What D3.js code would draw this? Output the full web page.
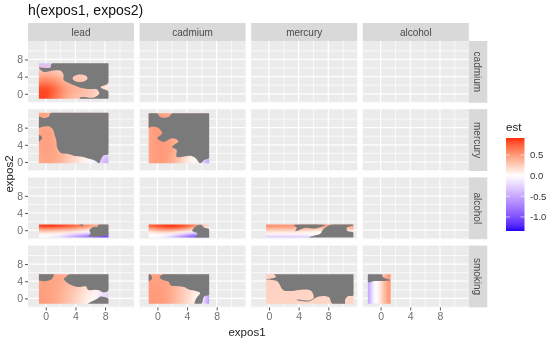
<!DOCTYPE html>
<html>
<head>
<meta charset="utf-8">
<script src="https://cdn.jsdelivr.net/npm/d3@7"></script>
<style>
html, body { margin: 0; padding: 0; background: #fff; }
svg { display: block; filter: blur(0.55px); font-family: "Liberation Sans", Arial, sans-serif; }
</style>
</head>
<body>
<svg id="drawing_region" width="550" height="342"></svg>
<script>
const cols = ['lead', 'cadmium', 'mercury', 'alcohol'];
const rows = ['cadmium', 'mercury', 'alcohol', 'smoking'];
const x_ticks = [0, 4, 8];
const x_minor = [2, 6, 10];
const y_ticks = [0, 4, 8];
const y_minor = [-2, 2, 6, 10];
const legend_ticks = [0.5, 0, -0.5, -1];

// est, rows run from the top of the patch down
const grid8 = [-1, 0, 1, 2, 3, 4, 5, 6, 7, 8];
const grid7 = [-1, 0, 1, 2, 3, 4, 5, 6, 7];
const thin8 = [-1, 0.5, 2, 3.5, 5, 6.5, 8];
const thin7 = [-1, 0.5, 2, 3.5, 5, 6.5];
const thin11 = [-0.5, 1, 2.5, 4, 5.5, 7, 8.5, 10, 11.5];
const thin_y = [1, 0.5, 0, -0.5, -1, -1.5];
const smoke_y = [5, 3, 1, -1];

const lead_cadmium_est = [
    [-.35, -.35, -.3, .2, .2, .2, .2, .2, .2, .2],
    [.3, .35, .3, .25, .2, .25, .25, .2, .2, .2],
    [.55, .6, .55, .45, .35, .3, .3, .2, .15, .12],
    [.85, .85, .75, .6, .45, .4, .35, .3, .2, .15],
    [.85, .85, .7, .55, .4, .3, .3, .25, .2, .1]
];
const lead_cadmium_na = [
    [[.84,7.1],[8.46,7.1],[8.46,2.6],[7.4,1.55],[8.46,.55],[8.46,-1.16],[4.55,-1.16],[4.7,-.8],[6.5,-.85],[7.2,0],[6.95,.95],[5.85,1.1],[4.9,1.3],[3.1,2.5],[2.4,3.25],[2.4,4.4],[2,5.35],[1.05,5.4],[-.3,5.1],[-.93,6],[-.93,6.1],[.6,6.1]],
    [[3.6,3.6],[3.9,4.2],[4.6,4.5],[5.3,4.3],[5.65,3.6],[5.3,3],[4.6,2.75],[3.9,3]]
];

const lead_mercury_est = [
    [.45, .45, .4, .3, .3, .3, .3, .3, .3, .3],
    [.42, .42, .4, .3, .3, .3, .3, .3, .3, .3],
    [.45, .48, .45, .35, .3, .3, .3, .3, .3, .3],
    [.45, .48, .45, .38, .3, .3, .3, .3, .3, .3],
    [.45, .48, .45, .38, .3, .25, .2, .1, .05, 0],
    [.42, .45, .45, .4, .3, .2, .1, .03, -.15, -.4],
    [.45, .45, .42, .35, .25, .15, .05, 0, -.2, -.45]
];
const lead_mercury_na = [
    [[.7,11.5],[8.46,11.5],[8.46,1.85],[7.8,1.55],[7.4,.45],[7.2,-.3],[6.75,.25],[5.7,.8],[4.7,1.25],[3.9,1.4],[3.1,1.85],[2,2.15],[1.5,3.55],[1.45,4.75],[1.2,6.3],[.95,7.6],[.4,8.3],[-.5,8.2],[-.93,7.85],[-.93,10.55],[-.3,10.25],[.4,10.55]],
    [[-.93,6.3],[-.48,5.75],[-.75,4.95],[-.93,4.8]]
];

const cadmium_mercury_est = [
    [.45, .48, .48, .4, .3, .3, .3, .3, .3],
    [.45, .48, .48, .4, .3, .3, .3, .3, .3],
    [.45, .5, .5, .4, .3, .3, .3, .3, .3],
    [.45, .5, .5, .45, .35, .3, .3, .3, .3],
    [.45, .5, .5, .45, .35, .3, .2, .1, 0],
    [.45, .5, .5, .42, .3, .12, .03, -.1, -.5],
    [.45, .5, .48, .4, .25, .1, .02, -.15, -.7]
];
const cadmium_mercury_na = [
    [[2,11.35],[6.98,11.35],[6.98,1],[6.3,.45],[5.8,-.3],[5.15,.9],[4.5,1.45],[2.6,1.23],[2.6,2.8],[2,3.5],[2.85,4.85],[2,5.55],[.85,4.7],[0,5.55],[.65,6.7],[.1,8],[-.5,8.2],[-1,8.1],[-1.18,7.9],[-1.18,11.35],[0,11.35],[.3,10.6],[.9,10.3],[1.6,10.6]]
];

const lead_alcohol_est = [
    [.85, .9, .85, .75, .6, .45, .35],
    [.6, .65, .6, .55, .45, .3, .3],
    [.4, .4, .35, .3, .15, .1, .1],
    [.2, .2, .15, .1, .02, -.1, -.2],
    [.05, .02, -.03, -.2, -.4, -.6, -.9],
    [0, -.05, -.2, -.5, -.7, -.9, -1.1]
];
const lead_alcohol_na = [
    [[7.1,1.32],[8.46,1.32],[8.46,-1],[7.85,-1.3],[7.55,-1.4],[5.8,-1.4],[6.05,-.78],[5.9,0],[6.5,.78],[6.95,.78]],
    [[4.5,1.32],[5.1,1.32],[4.9,.9]]
];

const cadmium_alcohol_est = [
    [.75, .85, .9, .8, .6, .2],
    [.5, .7, .75, .65, .35, .1],
    [.3, .45, .45, .3, .1, 0],
    [.1, .2, .15, .03, -.1, -.3],
    [0, .02, -.05, -.3, -.6, -.6],
    [0, -.05, -.3, -.7, -1, -.8]
];
const cadmium_alcohol_na = [
    [[5.85,1.32],[6.3,.62],[6.98,.23],[6.98,-1.7],[5.1,-1.7],[5.4,-.8],[4.7,-.15],[5.4,1.16]]
];

const mercury_alcohol_est = [
    [.55, .55, .5, .5, .5, .5, .45, .45, .45],
    [.4, .4, .4, .4, .4, .35, .3, .35, .4],
    [.25, .25, .25, .25, .2, .15, .1, .1, .2],
    [.1, .1, .1, .08, .05, .02, 0, 0, 0],
    [.03, .03, .03, .02, .01, 0, 0, 0, 0],
    [-.3, -.3, -.3, -.3, -.25, -.1, 0, 0, 0]
];
const mercury_alcohol_na = [
    [[8.4,1.32],[11.4,1.32],[11.4,1.16],[10.5,.62],[10.55,-.15],[11.4,-.54],[11.4,-1.7],[5.35,-1.7],[5.8,-1.4],[6.95,-.78],[7.3,.16]],
    [[3.3,1.2],[7.6,1.2],[6.25,.4],[4.9,.55],[3.55,-.23],[3.75,.55]]
];

const lead_smoking_est = [
    [.45, .45, .45, .45, .4, .35, .3, .3, .3, .3],
    [.48, .48, .45, .42, .35, .28, .2, .1, .03, -.1],
    [.5, .48, .45, .4, .32, .25, .15, .05, -.05, -.35],
    [.5, .48, .45, .38, .3, .2, .1, .03, -.05, -.2]
];
const lead_smoking_na = [
    [[3.2,5.65],[8.46,5.65],[8.46,1.85],[7.65,1.45],[7.3,1.85],[6.7,2],[5.7,2],[5.4,2.8],[4.25,2.65],[3.1,3.4],[2.43,4.55],[2.7,5]],
    [[-.93,5.65],[1.07,5.65],[1,5],[.6,4.3],[-.93,4.2]],
    [[8.46,-.08],[8.46,-1.25],[5.7,-1.25],[6.05,-.85],[6.95,-.08],[7.4,.45]]
];

const cadmium_smoking_est = [
    [.45, .45, .45, .4, .3, .3, .3, .3, .3],
    [.5, .5, .48, .42, .3, .2, .1, .05, -.5],
    [.5, .5, .48, .4, .3, .2, .08, 0, -.7],
    [.5, .5, .48, .4, .3, .2, .06, 0, -.7]
];
const cadmium_smoking_na = [
    [[.77,5.65],[6.98,5.65],[6.98,.85],[6.3,.46],[5.94,-1.25],[5.03,-1.25],[5.3,.16],[5.76,1.25],[5.17,1.7],[4.26,2.05],[3.58,2.65],[1.77,3.05],[1.54,3.8],[.64,4.35],[.3,4.9]],
    [[-1.18,5.65],[-.95,5.65],[-.72,4.57],[-1.18,4.03]]
];

const mercury_smoking_x = [0, 4, 8, 12];
const mercury_smoking_est = [
    [.22, .22, .22, .22],
    [.22, .22, .22, .22],
    [.22, .22, .2, .2],
    [.22, .22, .2, .2]
];
const mercury_smoking_na = [
    [[.7,5.65],[11.4,5.65],[11.4,.7],[10.65,.47],[10.25,-.46],[10.25,-1.25],[8.53,-1.25],[8.07,.3],[6.7,.46],[5.35,-.7],[3.76,-.4],[3.76,-.3],[5.35,-.47],[6.03,.15],[5.58,1.88],[2.63,1.7],[1.95,1.88],[1.05,4.04],[-.4,4.39],[.95,4.96]]
];

const alcohol_smoking_x = [-1.6, -1.2, -.8, -.4, 0, .4, .8, 1.2];
const alcohol_smoking_est = [
    [-.5, -.25, -.02, .03, .15, .3, .45, .5],
    [-.5, -.25, -.02, .03, .15, .3, .42, .5],
    [-.5, -.25, -.02, .03, .15, .3, .42, .5],
    [-.5, -.25, -.02, .03, .15, .3, .42, .5]
];
const alcohol_smoking_na = [
    [[-1.72,5.65],[.18,5.65],[.32,4.96],[1.36,4.2],[-.82,4.04],[-1.72,3.8]]
];

const patches = [
    {col:0, row:0, ext_x:[-.93,8.46], ext_y:[-1.16,7.1], xs:grid8, ys:[7,5,3,1,-1], est:lead_cadmium_est, na:lead_cadmium_na},
    {col:0, row:1, ext_x:[-.93,8.46], ext_y:[-.3,11.5], xs:grid8, ys:[11,9,7,5,3,1,-1], est:lead_mercury_est, na:lead_mercury_na},
    {col:1, row:1, ext_x:[-1.18,6.98], ext_y:[-.3,11.35], xs:grid7, ys:[11,9,7,5,3,1,-1], est:cadmium_mercury_est, na:cadmium_mercury_na},
    {col:0, row:2, ext_x:[-.93,8.46], ext_y:[-1.7,1.32], xs:thin8, ys:thin_y, est:lead_alcohol_est, na:lead_alcohol_na},
    {col:1, row:2, ext_x:[-1.18,6.98], ext_y:[-1.7,1.32], xs:thin7, ys:thin_y, est:cadmium_alcohol_est, na:cadmium_alcohol_na},
    {col:2, row:2, ext_x:[-.4,11.4], ext_y:[-1.7,1.32], xs:thin11, ys:thin_y, est:mercury_alcohol_est, na:mercury_alcohol_na},
    {col:0, row:3, ext_x:[-.93,8.46], ext_y:[-1.25,5.65], xs:grid8, ys:smoke_y, est:lead_smoking_est, na:lead_smoking_na},
    {col:1, row:3, ext_x:[-1.18,6.98], ext_y:[-1.25,5.65], xs:grid7, ys:smoke_y, est:cadmium_smoking_est, na:cadmium_smoking_na},
    {col:2, row:3, ext_x:[-.4,11.4], ext_y:[-1.25,5.65], xs:mercury_smoking_x, ys:smoke_y, est:mercury_smoking_est, na:mercury_smoking_na},
    {col:3, row:3, ext_x:[-1.72,1.36], ext_y:[-1.25,5.65], xs:alcohol_smoking_x, ys:smoke_y, est:alcohol_smoking_est, na:alcohol_smoking_na}
];

const config = {
    left: 28, top: 41,
    panel_width: 106, panel_height: 61.8,
    col_step: 111.6, row_step: 68.2,
    strip: 18.5
};

const svg = d3.select('#drawing_region');
const defs = svg.append('defs');

const color = d3.scaleLinear()
    .domain([-1.34, 0, 0.91])
    .range(['#2200ff', '#ffffff', '#ff2a0a'])
    .interpolate(d3.interpolateLab)
    .clamp(true);

// cell edges sit halfway between neighbouring centres, outer cells run past the clip
function edges(centres, scale) {
    const out = [];
    centres.forEach((c, i) => {
        const lo = i === 0 ? c - (centres[1] - c) * 4 : (centres[i - 1] + c) / 2;
        const hi = i === centres.length - 1 ? c + (c - centres[i - 1]) * 4 : (c + centres[i + 1]) / 2;
        out.push([scale(lo), scale(hi)]);
    });
    return out;
}

// panels
const col_x = cols.map((d, i) => config.left + i * config.col_step);
const row_y = rows.map((d, i) => config.top + i * config.row_step);
const xscales = col_x.map(l => d3.scaleLinear().domain([-2.4, 11.9]).range([l, l + config.panel_width]));
const yscales = row_y.map(t => d3.scaleLinear().domain([-2.1, 12.3]).range([t + config.panel_height, t]));

rows.forEach((row, r) => {
    cols.forEach((col, c) => {
        const x = xscales[c], y = yscales[r];
        const g = svg.append('g');
        g.append('rect')
            .attr('x', col_x[c]).attr('y', row_y[r])
            .attr('width', config.panel_width).attr('height', config.panel_height)
            .attr('fill', '#EBEBEB');
        g.selectAll('.minor-x').data(x_minor).join('line')
            .attr('x1', d => x(d)).attr('x2', d => x(d))
            .attr('y1', row_y[r]).attr('y2', row_y[r] + config.panel_height)
            .attr('stroke', '#fff').attr('stroke-width', 0.7);
        g.selectAll('.minor-y').data(y_minor).join('line')
            .attr('y1', d => y(d)).attr('y2', d => y(d))
            .attr('x1', col_x[c]).attr('x2', col_x[c] + config.panel_width)
            .attr('stroke', '#fff').attr('stroke-width', 0.7);
        g.selectAll('.major-x').data(x_ticks).join('line')
            .attr('x1', d => x(d)).attr('x2', d => x(d))
            .attr('y1', row_y[r]).attr('y2', row_y[r] + config.panel_height)
            .attr('stroke', '#fff').attr('stroke-width', 1.2);
        g.selectAll('.major-y').data(y_ticks).join('line')
            .attr('y1', d => y(d)).attr('y2', d => y(d))
            .attr('x1', col_x[c]).attr('x2', col_x[c] + config.panel_width)
            .attr('stroke', '#fff').attr('stroke-width', 1.2);
    });
});

// fitted surfaces
const ring_path = d3.line().x(d => d[0]).y(d => d[1]).curve(d3.curveCatmullRomClosed.alpha(0.5));
patches.forEach((p, i) => {
    const x = xscales[p.col], y = yscales[p.row];
    const x_edges = edges(p.xs, x);
    const y_edges = edges(p.ys, y);

    defs.append('clipPath').attr('id', 'clip' + i).append('rect')
        .attr('x', x(p.ext_x[0])).attr('y', y(p.ext_y[1]))
        .attr('width', x(p.ext_x[1]) - x(p.ext_x[0]))
        .attr('height', y(p.ext_y[0]) - y(p.ext_y[1]));

    const sd_x = 0.4 * d3.median(x_edges, d => Math.abs(d[1] - d[0]));
    const sd_y = 0.4 * d3.median(y_edges, d => Math.abs(d[1] - d[0]));
    defs.append('filter').attr('id', 'soft' + i)
        .attr('filterUnits', 'userSpaceOnUse')
        .attr('x', 0).attr('y', 0).attr('width', 550).attr('height', 342)
        .attr('color-interpolation-filters', 'sRGB')
        .append('feGaussianBlur').attr('stdDeviation', `${sd_x} ${sd_y}`);

    const g = svg.append('g').attr('clip-path', `url(#clip${i})`);
    const cells = g.append('g').attr('filter', `url(#soft${i})`);
    p.est.forEach((line, yi) => {
        line.forEach((v, xi) => {
            cells.append('rect')
                .attr('x', x_edges[xi][0])
                .attr('y', Math.min(y_edges[yi][0], y_edges[yi][1]))
                .attr('width', x_edges[xi][1] - x_edges[xi][0] + 0.5)
                .attr('height', Math.abs(y_edges[yi][1] - y_edges[yi][0]) + 0.5)
                .attr('fill', color(v));
        });
    });
    g.append('path')
        .attr('d', p.na.map(ring => ring_path(ring.map(d => [x(d[0]), y(d[1])]))).join(''))
        .attr('fill', '#7A7A7A')
        .attr('fill-rule', 'evenodd');
});

// strips
cols.forEach((col, c) => {
    svg.append('rect')
        .attr('x', col_x[c]).attr('y', 23)
        .attr('width', config.panel_width).attr('height', config.top - 23)
        .attr('fill', '#D9D9D9');
    svg.append('text')
        .attr('x', col_x[c] + config.panel_width / 2).attr('y', 36)
        .attr('text-anchor', 'middle')
        .attr('font-size', 10).attr('fill', '#4a4a4a')
        .text(col);
});
const right = col_x[3] + config.panel_width;
rows.forEach((row, r) => {
    svg.append('rect')
        .attr('x', right).attr('y', row_y[r])
        .attr('width', config.strip).attr('height', config.panel_height)
        .attr('fill', '#D9D9D9');
    svg.append('text')
        .attr('transform', `translate(${right + 5.5}, ${row_y[r] + config.panel_height / 2}) rotate(90)`)
        .attr('text-anchor', 'middle')
        .attr('font-size', 10).attr('fill', '#4a4a4a')
        .text(row);
});

// axes
function style_axis(sel) {
    sel.select('.domain').remove();
    sel.selectAll('.tick line').attr('stroke', '#555');
    sel.selectAll('.tick text')
        .attr('fill', '#707070')
        .attr('font-size', 10.5)
        .attr('font-family', '"Liberation Sans", Arial, sans-serif');
}
rows.forEach((row, r) => {
    svg.append('g')
        .attr('transform', `translate(${config.left}, 0)`)
        .call(d3.axisLeft(yscales[r]).tickValues(y_ticks).tickSize(3).tickPadding(2))
        .call(style_axis);
});
cols.forEach((col, c) => {
    svg.append('g')
        .attr('transform', `translate(0, ${row_y[3] + config.panel_height})`)
        .call(d3.axisBottom(xscales[c]).tickValues(x_ticks).tickSize(3).tickPadding(2))
        .call(style_axis);
});

// titles
svg.append('text').attr('x', 28).attr('y', 15)
    .attr('font-size', 14).attr('fill', '#111')
    .text('h(expos1, expos2)');
svg.append('text').attr('x', 247).attr('y', 336)
    .attr('text-anchor', 'middle').attr('font-size', 11.5).attr('fill', '#222')
    .text('expos1');
svg.append('text')
    .attr('transform', 'translate(13, 174) rotate(-90)')
    .attr('text-anchor', 'middle').attr('font-size', 11.5).attr('fill', '#222')
    .text('expos2');

// legend
const legend_scale = d3.scaleLinear().domain([-1.34, 0.91]).range([231, 138]);
const legend_stops = d3.range(0, 21).map(i => -1.34 + i * 2.25 / 20);
const gradient = defs.append('linearGradient').attr('id', 'est_bar')
    .attr('x1', 0).attr('x2', 0).attr('y1', 1).attr('y2', 0);
gradient.selectAll('stop').data(legend_stops).join('stop')
    .attr('offset', (d, i) => i / 20)
    .attr('stop-color', d => color(d));
svg.append('text').attr('x', 506).attr('y', 131)
    .attr('font-size', 11.5).attr('fill', '#222').text('est');
svg.append('rect')
    .attr('x', 506).attr('y', 138).attr('width', 18.5).attr('height', 93)
    .attr('fill', 'url(#est_bar)');
legend_ticks.forEach(t => {
    svg.append('line').attr('x1', 506).attr('x2', 510)
        .attr('y1', legend_scale(t)).attr('y2', legend_scale(t))
        .attr('stroke', '#fff').attr('stroke-width', 0.6);
    svg.append('line').attr('x1', 520.5).attr('x2', 524.5)
        .attr('y1', legend_scale(t)).attr('y2', legend_scale(t))
        .attr('stroke', '#fff').attr('stroke-width', 0.6);
    svg.append('text')
        .attr('x', 530).attr('y', legend_scale(t) + 3.5)
        .attr('font-size', 9.5).attr('fill', '#333')
        .text(d3.format('.1f')(t).replace('\u2212', '-'));
});
</script>
</body>
</html>
